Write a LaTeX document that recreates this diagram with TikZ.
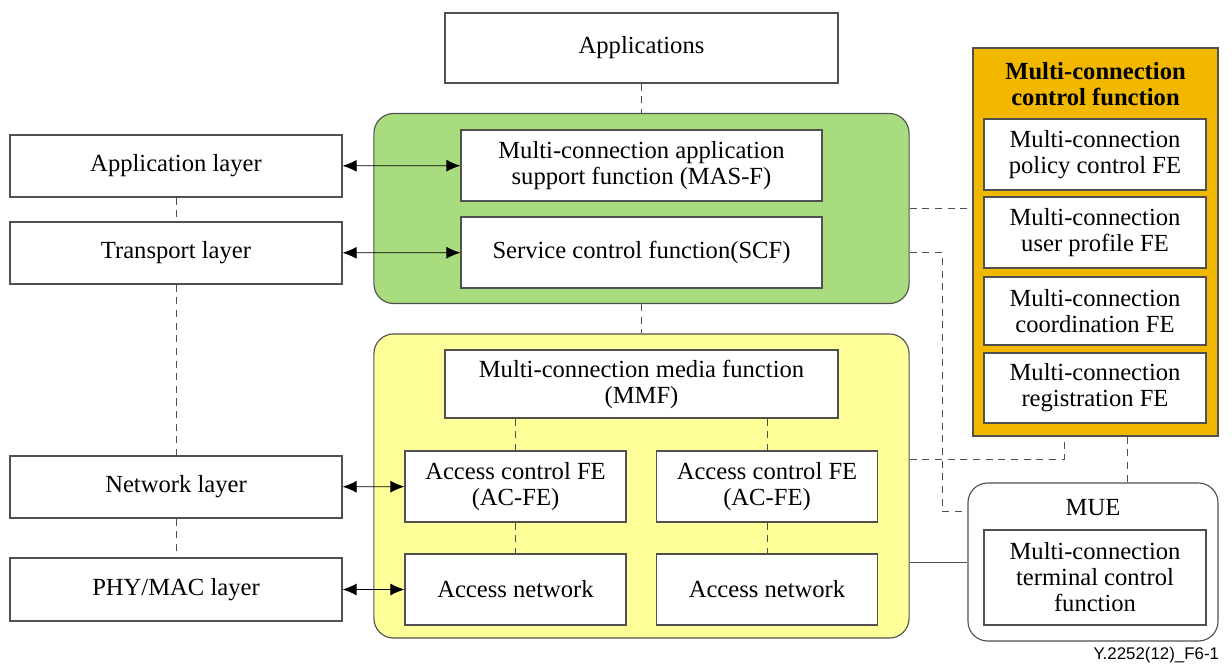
\documentclass[tikz,border=0pt]{standalone}
\usepackage{fontspec}
\setmainfont{Liberation Serif}
\setsansfont{Liberation Sans}
\usetikzlibrary{arrows.meta}
\definecolor{mcgreen}{RGB}{169,220,126}
\definecolor{mcyellow}{RGB}{255,255,153}
\definecolor{mcorange}{RGB}{242,184,0}
\definecolor{mcline}{RGB}{80,80,80}

\begin{document}
\begin{tikzpicture}[x=0.025cm, y=-0.025cm,
        font=\fontsize{17.5}{18.5}\selectfont,
        box/.style={draw=mcline, line width=0.8pt, fill=white, align=center, inner sep=0pt},
        area/.style={draw=mcline, line width=0.8pt, rounded corners=14pt, inner sep=0pt},
        dash line/.style={draw=mcline, line width=0.7pt, dash pattern=on 5pt off 4pt},
        link/.style={{Latex[length=10pt,width=8.5pt]}-{Latex[length=10pt,width=8.5pt]}, line width=0.6pt}]
    \useasboundingbox (0,0) rectangle (1232,666);

    % layers on the left
    \node[box, minimum width=8.3cm, minimum height=1.55cm] (AL) at (176, 166) {Application layer};
    \node[box, minimum width=8.3cm, minimum height=1.55cm] (TL) at (176, 253) {Transport layer};
    \node[box, minimum width=8.3cm, minimum height=1.55cm] (NL) at (176, 487) {Network layer};
    \node[box, minimum width=8.3cm, minimum height=1.575cm] (PL) at (176, 589.5) {PHY/MAC layer};

    % middle column
    \node[box, minimum width=9.825cm, minimum height=1.75cm] (APP) at (641.5, 48) {Applications};
    \node[area, fill=mcgreen, minimum width=13.375cm, minimum height=4.75cm] (GR) at (641.5, 208.5) {};
    \node[box, minimum width=9.025cm, minimum height=1.775cm] (MAS) at (641.5, 165.5) {Multi-connection application\\support function (MAS-F)};
    \node[box, minimum width=9.025cm, minimum height=1.775cm] (SCF) at (641.5, 252.5) {Service control function(SCF)};

    \node[area, fill=mcyellow, minimum width=13.375cm, minimum height=7.6cm] (YE) at (641.5, 486) {};
    \node[box, minimum width=9.825cm, minimum height=1.7cm] (MMF) at (641.5, 384) {Multi-connection media function\\(MMF)};
    \node[box, minimum width=5.525cm, minimum height=1.775cm] (AC1) at (515.5, 486.5) {Access control FE\\(AC-FE)};
    \node[box, minimum width=5.525cm, minimum height=1.775cm] (AC2) at (767, 486.5) {Access control FE\\(AC-FE)};
    \node[box, minimum width=5.525cm, minimum height=1.775cm] (AN1) at (515.5, 589.5) {Access network};
    \node[box, minimum width=5.525cm, minimum height=1.775cm] (AN2) at (767, 589.5) {Access network};

    % right column
    \node[draw=mcline, line width=0.8pt, fill=mcorange, minimum width=6.125cm, minimum height=9.7cm] (MCF) at (1095.5, 242) {};
    \node[align=center, font=\fontsize{17.5}{18.5}\selectfont\bfseries] (MCFT) at (1095.5, 84) {Multi-connection\\control function};
    \node[box, minimum width=5.55cm, minimum height=1.775cm] (POL) at (1095, 154.5) {Multi-connection\\policy control FE};
    \node[box, minimum width=5.55cm, minimum height=1.775cm] (USR) at (1095, 232.5) {Multi-connection\\user profile FE};
    \node[box, minimum width=5.55cm, minimum height=1.7cm] (CRD) at (1095, 311) {Multi-connection\\coordination FE};
    \node[box, minimum width=5.55cm, minimum height=1.75cm] (REG) at (1095, 388) {Multi-connection\\registration FE};

    \node[area, fill=white, minimum width=6.25cm, minimum height=3.95cm] (MUE) at (1093, 562) {};
    \node (MUET) at (1093, 508) {MUE};
    \node[box, minimum width=5.55cm, minimum height=2.375cm] (MTC) at (1095, 577.5) {Multi-connection\\terminal control\\function};

    \node[anchor=east, font=\sffamily\fontsize{12}{14}\selectfont] (FIG) at (1224, 655) {Y.2252(12)\_F6-1};

    % dashed links
    \draw[dash line] (AL) -- (TL);
    \draw[dash line] (TL) -- (NL);
    \draw[dash line] (NL) -- (PL);
    \draw[dash line] (APP) -- (GR);
    \draw[dash line] (GR) -- (YE);
    \draw[dash line] (MMF.south -| AC1) -- (AC1);
    \draw[dash line] (MMF.south -| AC2) -- (AC2);
    \draw[dash line] (AC1) -- (AN1);
    \draw[dash line] (AC2) -- (AN2);

    \coordinate (S1) at (942, 511);
    \coordinate (S2) at (1064, 459);
    \coordinate (S3) at (1127, 0);
    \draw[dash line] (GR.east) -- (GR.east -| MCF.west);
    \draw[dash line] (GR.east |- SCF) -| (S1) -- (MUE.west |- S1);
    \draw[dash line] (YE.east |- S2) -| (MCF.south -| S2);
    \draw[dash line] (MCF.south -| S3) -- (MUE.north -| S3);
    \draw[mcline, line width=0.7pt] (YE.east |- MUE) -- (MUE.west);

    % arrows
    \draw[link] (AL) -- (MAS);
    \draw[link] (TL) -- (SCF);
    \draw[link] (NL) -- (AC1);
    \draw[link] (PL) -- (AN1);
\end{tikzpicture}
\end{document}
